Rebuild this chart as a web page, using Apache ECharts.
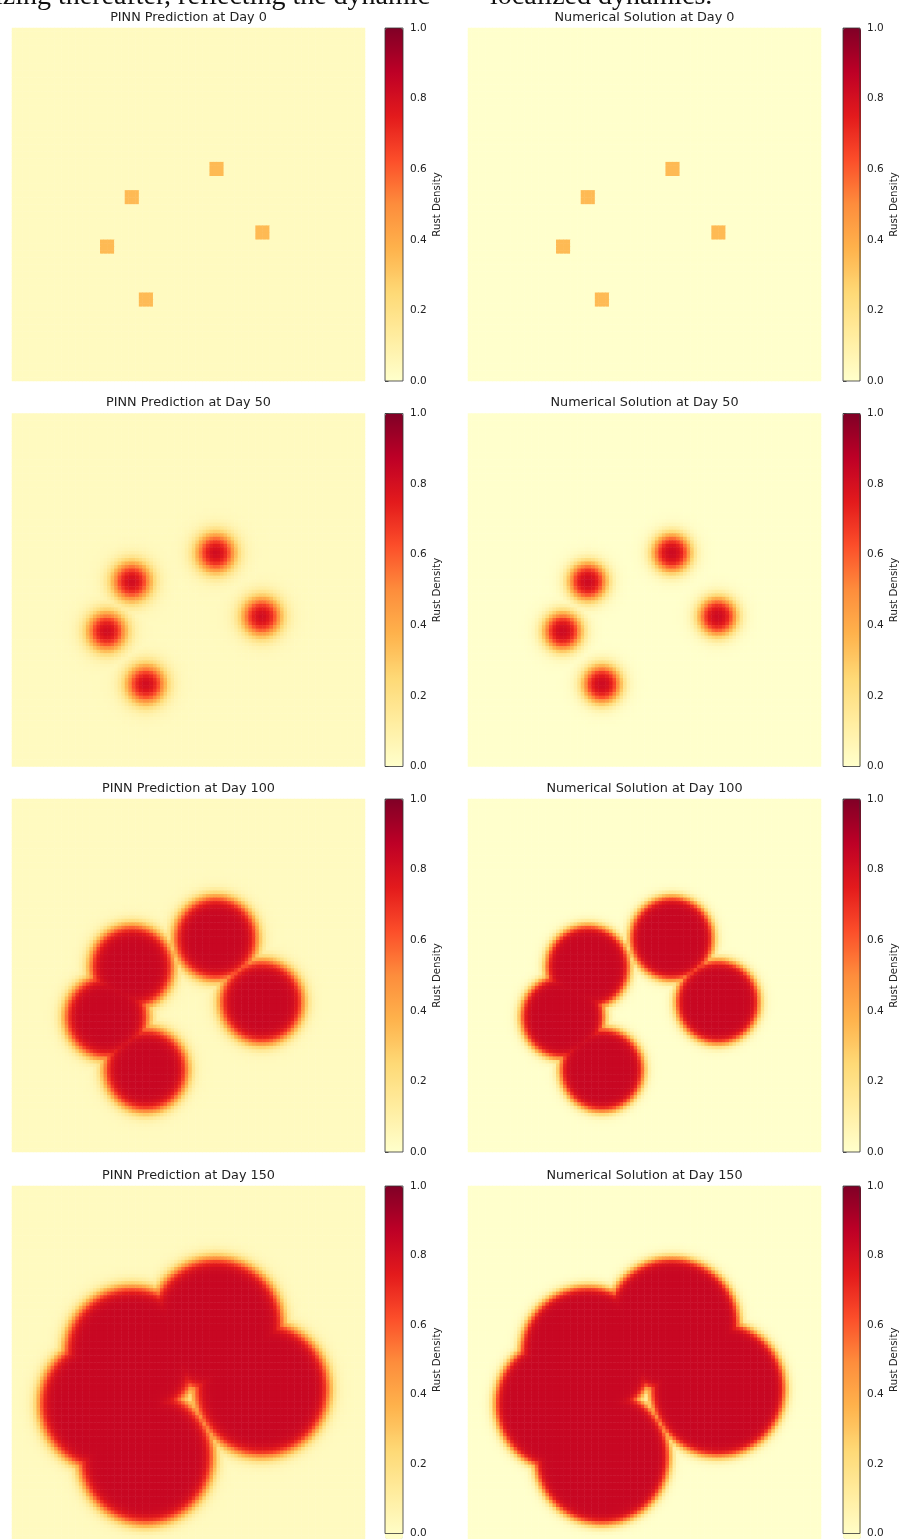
<!DOCTYPE html>
<html><head><meta charset="utf-8">
<script src="https://cdn.jsdelivr.net/npm/echarts@6/dist/echarts.min.js"></script>
<style>html,body{margin:0;padding:0;background:#fff;overflow:hidden}#c{width:900px;height:1539px}</style>
</head><body><div id="c"></div>
<script>
// ---- data ----
const days = [0, 50, 100, 150];
const panelKinds = ['PINN Prediction', 'Numerical Solution'];
const gridSize = 100;                                  // cells per side
const seedCol = [57.8, 34.0, 26.9, 70.8, 38.0];        // corrosion seed centres (cells)
const seedRow = [39.6, 47.7, 61.8, 57.6, 76.8];
const initialSquareHalf = 2;                           // day 0 seeds: 4x4 cells
const initialDensity = 0.35;
const frontRadius = [0, 5.0, 12.0, 19.3];              // per day (cells)
const frontWidthNumerical = [0, 1.2, 0.75, 0.75];
const frontWidthPINN = [0, 1.4, 1.0, 1.0];
const plateauDensity = [0.35, 0.84, 0.84, 0.84];
const backgroundNumerical = 0.0;
const backgroundPINN = 0.035;
const colorbarTicks = [0, 0.2, 0.4, 0.6, 0.8, 1.0];
const ylOrRd = ['#ffffcc','#ffeda0','#fed976','#feb24c','#fd8d3c','#fc4e2a','#e31a1c','#bd0026','#800026'];
const captionLeft = 'stabilizing thereafter, reflecting the dynamic';
const captionRight = 'localized dynamics.';

// ---- layout ----
const colLeft = [12, 468];
const barLeft = [385, 843];
const rowTop = [28, 413.5, 799, 1186];
const panel = 353;
const barW = 18;

function field(k, widths, bg) {
  const out = [];
  const R = frontRadius[k], w = widths[k], peak = plateauDensity[k];
  for (let r = 0; r < gridSize; r++) {
    for (let c = 0; c < gridSize; c++) {
      const x = c + 0.5, y = r + 0.5;
      let v = bg;
      if (k === 0) {
        for (let s = 0; s < seedCol.length; s++) {
          if (Math.abs(x - seedCol[s]) < initialSquareHalf && Math.abs(y - seedRow[s]) < initialSquareHalf) v = initialDensity;
        }
      } else {
        let m = 0;
        for (let s = 0; s < seedCol.length; s++) {
          const d = Math.hypot(x - seedCol[s], y - seedRow[s]);
          m = Math.max(m, 1 / (1 + Math.exp((d - R) / w)));
        }
        v = bg + (peak - bg) * m;
      }
      out.push([c, r, +v.toFixed(4)]);
    }
  }
  return out;
}

const cats = Array.from({length: gridSize}, (_, i) => i);
const grids = [], xAxes = [], yAxes = [], series = [], visualMaps = [], graphics = [];

graphics.push({type: 'text', style: {text: captionLeft, x: 430, y: -3, textAlign: 'right', textVerticalAlign: 'middle', font: '28px "Liberation Serif", "Times New Roman", serif', fill: '#111'}});
graphics.push({type: 'text', style: {text: captionRight, x: 490, y: -3, textAlign: 'left', textVerticalAlign: 'middle', font: '28px "Liberation Serif", "Times New Roman", serif', fill: '#111'}});

let si = 0;
for (let k = 0; k < days.length; k++) {
  for (let p = 0; p < 2; p++) {
    const gi = grids.length;
    grids.push({left: colLeft[p], top: rowTop[k], width: panel, height: panel, show: false});
    xAxes.push({type: 'category', data: cats, gridIndex: gi, show: false});
    yAxes.push({type: 'category', data: cats, gridIndex: gi, show: false, inverse: true});
    const data = p === 0 ? field(k, frontWidthPINN, backgroundPINN) : field(k, frontWidthNumerical, backgroundNumerical);
    series.push({type: 'heatmap', xAxisIndex: gi, yAxisIndex: gi, data: data, progressive: 0, silent: true, emphasis: {disabled: true}});
    visualMaps.push({
      type: 'continuous', min: 0, max: 1, seriesIndex: si, show: true, calculable: false, hoverLink: false,
      left: barLeft[p], top: rowTop[k], itemWidth: barW, itemHeight: panel, padding: 0, text: null,
      inRange: {color: ylOrRd}
    });
    si++;
    // colourbar frame + ticks
    const cg = grids.length;
    grids.push({left: barLeft[p], top: rowTop[k], width: barW, height: panel, show: true, borderColor: '#333', borderWidth: 0.8, backgroundColor: 'transparent', z: 10});
    xAxes.push({type: 'value', gridIndex: cg, show: false, min: 0, max: 1});
    yAxes.push({
      type: 'value', gridIndex: cg, min: colorbarTicks[0], max: colorbarTicks[colorbarTicks.length - 1], interval: 0.2, position: 'right',
      axisLine: {show: false}, splitLine: {show: false},
      axisTick: {show: true, inside: false, length: 3.5, lineStyle: {color: '#333', width: 0.8}},
      axisLabel: {margin: 7, fontSize: 10.5, color: '#222', fontFamily: 'DejaVu Sans', formatter: v => v.toFixed(1)},
      name: 'Rust Density', nameLocation: 'middle', nameRotate: 90, nameGap: 29,
      nameTextStyle: {fontSize: 10.2, color: '#222', fontFamily: 'DejaVu Sans'}
    });
    graphics.push({type: 'text', style: {text: panelKinds[p] + ' at Day ' + days[k], x: colLeft[p] + panel / 2, y: rowTop[k] - 10.5, textAlign: 'center', textVerticalAlign: 'middle', font: '12.8px "DejaVu Sans"', fill: '#222'}});
  }
}

const chart = echarts.init(document.getElementById('c'), null, {renderer: 'canvas'});
chart.setOption({
  animation: false,
  backgroundColor: '#fff',
  grid: grids, xAxis: xAxes, yAxis: yAxes, series: series, visualMap: visualMaps,
  graphic: graphics
});
</script></body></html>
